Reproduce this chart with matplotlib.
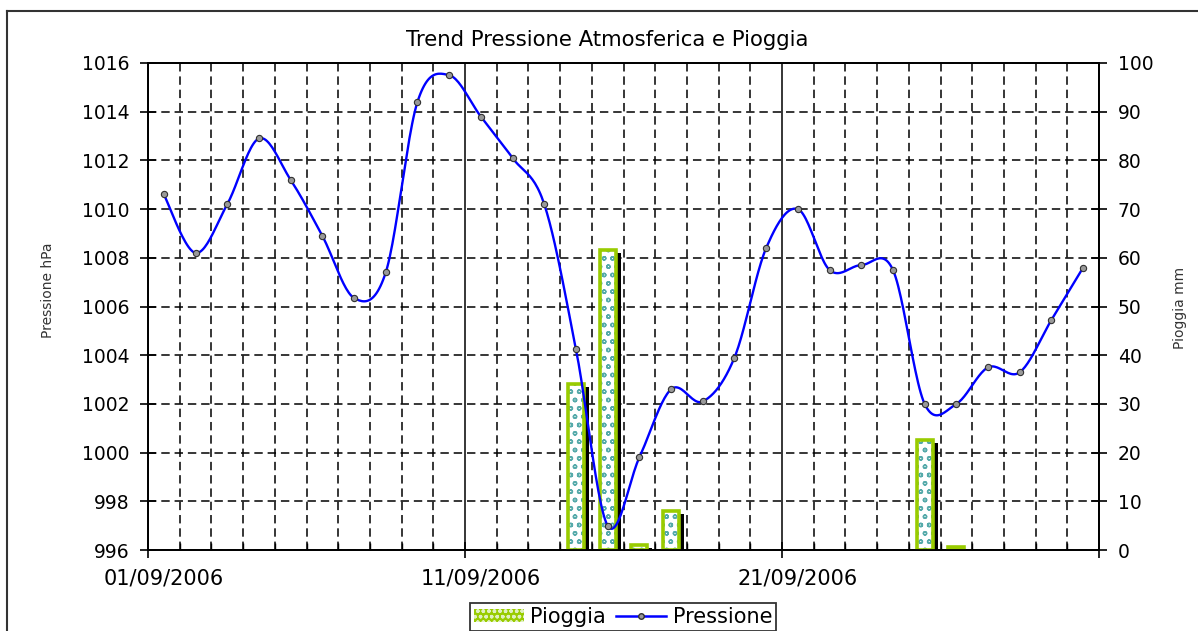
import numpy as np
import matplotlib
matplotlib.use("Agg")
import matplotlib.pyplot as plt
from matplotlib.transforms import ScaledTranslation
from matplotlib.lines import Line2D
from matplotlib.patches import Patch
from matplotlib.ticker import MultipleLocator, FixedLocator, NullFormatter

# ---- data ----
giorni = list(range(1, 31))  # 1..30 settembre 2006
pressione = [1010.6, 1008.2, 1010.2, 1012.9, 1011.2, 1008.9, 1006.35, 1007.4,
             1014.4, 1015.5, 1013.8, 1012.1, 1010.2, 1004.25, 997.0, 999.8,
             1002.6, 1002.1, 1003.9, 1008.4, 1010.0, 1007.5, 1007.7, 1007.5,
             1002.0, 1002.0, 1003.5, 1003.3, 1005.45, 1007.6]
pioggia = [0, 0, 0, 0, 0, 0, 0, 0, 0, 0, 0, 0, 0, 34, 61.5, 1, 8,
           0, 0, 0, 0, 0, 0, 0, 22.5, 0.7, 0, 0, 0, 0]
date_labels = ["01/09/2006", "11/09/2006", "21/09/2006"]
date_ticks = [0, 10, 20, 30]
title = "Trend Pressione Atmosferica e Pioggia"

plt.rcParams['font.family'] = ['DejaVu Sans']

W, H = 1198, 631
fig = plt.figure(figsize=(W / 100, H / 100), dpi=100)
fig.patch.set_facecolor('white')

L, R, T, B = 148, 1099, 63, 550
ax = fig.add_axes([L / W, (H - B) / H, (R - L) / W, (B - T) / H])
ax2 = ax.twinx()

x = np.array(giorni) - 0.5
GREEN = '#99cc00'
BLUE = '#0000ff'

# ---- rain bars on ax (right scale) ----
ax.yaxis.tick_right()
ax.yaxis.set_label_position('right')
p = np.array(pioggia)
has_rain = p > 0
xb, pb = x[has_rain], p[has_rain]
bw = 0.5
shadow = ax.transData + ScaledTranslation(5 / 100, -3 / 100, fig.dpi_scale_trans)
ax.bar(xb, pb, width=bw, color='black', transform=shadow, zorder=2)
ax.bar(xb, pb, width=bw, facecolor='white', edgecolor='#55aaaa',
       hatch='oo', linewidth=0, zorder=3)
ax.bar(xb, pb, width=bw, facecolor='none', edgecolor=GREEN,
       linewidth=2.6, zorder=4)
ax.set_ylim(0, 100)
ax.set_xlim(0, 30)
ax.yaxis.set_major_locator(MultipleLocator(10))

# grid
ax.set_axisbelow(True)
ax.xaxis.set_major_locator(FixedLocator(date_ticks))
ax.xaxis.set_major_formatter(NullFormatter())
ax.xaxis.set_minor_locator(MultipleLocator(1))
dash = (0, (5.5, 3.2))
ax.grid(which='minor', axis='x', color='black', linestyle=dash, linewidth=1.1)
ax.grid(which='major', axis='x', color='black', linestyle='-', linewidth=1.1)
ax.grid(which='major', axis='y', color='black', linestyle=dash, linewidth=1.1)

# date labels centred on the day category
xt = ax.get_xaxis_transform() + ScaledTranslation(0, -28 / 100, fig.dpi_scale_trans)
for pos, lab in zip(date_ticks, date_labels):
    ax.text(pos + 0.5, 0, lab, transform=xt, ha='center', va='center', fontsize=15)

# ---- pressure line on ax2 (left scale) ----
ax2.yaxis.tick_left()
ax2.yaxis.set_label_position('left')
P = np.column_stack([x, pressione])
Pext = np.vstack([P[0], P, P[-1]])
segs = []
tt = np.linspace(0, 1, 25)
for i in range(len(P) - 1):
    p0, p1, p2, p3 = Pext[i], Pext[i + 1], Pext[i + 2], Pext[i + 3]
    c1 = p1 + (p2 - p0) / 6
    c2 = p2 - (p3 - p1) / 6
    seg = ((1 - tt) ** 3)[:, None] * p1 + (3 * (1 - tt) ** 2 * tt)[:, None] * c1 \
        + (3 * (1 - tt) * tt ** 2)[:, None] * c2 + (tt ** 3)[:, None] * p2
    segs.append(seg if i == 0 else seg[1:])
curve = np.vstack(segs)
ax2.plot(curve[:, 0], curve[:, 1], color=BLUE, linewidth=1.7, zorder=5)
ax2.plot(x, pressione, linestyle='none', marker='o', markersize=4.5,
         markerfacecolor='#999999', markeredgecolor='#303030',
         markeredgewidth=0.8, zorder=6)
ax2.set_ylim(996, 1016)
ax2.yaxis.set_major_locator(MultipleLocator(2))

# ---- axes styling ----
for a in (ax, ax2):
    for s in a.spines.values():
        s.set_linewidth(1.3)
        s.set_color('black')

ax.tick_params(axis='y', which='major', direction='inout', length=11, width=1.2,
               labelsize=13.5, pad=8, right=True, left=False)
ax2.tick_params(axis='y', which='major', direction='inout', length=11, width=1.2,
                labelsize=13.5, pad=8, left=True, right=False)
ax.tick_params(axis='x', which='major', direction='inout', length=11, width=1.2)
ax.tick_params(axis='x', which='minor', direction='in', length=5, width=1.0)

fig.text(607 / W, 1 - 40 / H, title, ha='center', va='center', fontsize=15.3)
fig.text(48 / W, 1 - 290 / H, "Pressione hPa", rotation=90, ha='center',
         va='center', fontsize=10, color='#333333')
fig.text(1180 / W, 1 - 308 / H, "Pioggia mm", rotation=90, ha='center',
         va='center', fontsize=10, color='#333333')

# ---- legend ----
handles = [Patch(facecolor=GREEN, edgecolor='#e0f0c0', hatch='ooo', linewidth=0),
           Line2D([], [], color=BLUE, linewidth=1.8, marker='o', markersize=4,
                  markerfacecolor='#999999', markeredgecolor='#303030')]
leg = fig.legend(handles, ["Pioggia", "Pressione"], loc='center',
                 bbox_to_anchor=(623 / W, 1 - 617 / H), ncol=2, fontsize=15,
                 frameon=True, fancybox=False, edgecolor='black',
                 handlelength=2.4, handleheight=0.6, handletextpad=0.3,
                 columnspacing=0.5, borderpad=0.2)
leg.get_frame().set_linewidth(1.3)

# ---- outer border ----
fig.add_artist(Line2D([7 / W, 1], [1 - 11 / H, 1 - 11 / H], transform=fig.transFigure,
                      color='#333333', linewidth=1.5))
fig.add_artist(Line2D([7 / W, 7 / W], [0, 1 - 11 / H], transform=fig.transFigure,
                      color='#333333', linewidth=1.5))

fig.savefig("out.png", dpi=100)
